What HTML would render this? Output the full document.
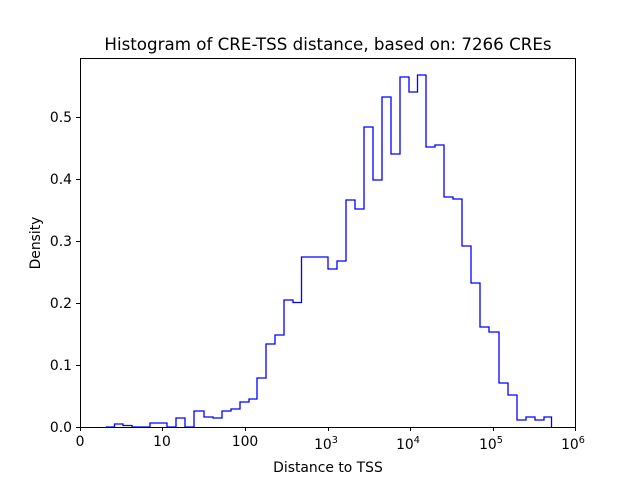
<!DOCTYPE html>
<html><head><meta charset="utf-8"><style>body{margin:0;background:#fff}svg{display:block;font-family:"DejaVu Sans","Liberation Sans",sans-serif}</style></head><body>
<svg width="640" height="480" viewBox="0 0 640 480" xmlns="http://www.w3.org/2000/svg">
<rect width="640" height="480" fill="#fff"/>
<path fill="none" stroke="#0000ff" stroke-width="1.3" stroke-linejoin="miter" d="M106,427 H114.5 V424 H123 V425.5 H132 V427 H150 V423 H167 V427 H176 V418 H185 V427 H194 V411 H204 V417 H213 V418 H222 V411 H231 V409 H240 V402 H249 V399 H257 V378 H266 V344 H275 V335 H284 V300 H293 V302.5 H301.5 V257 H328 V269 H337 V261 H346 V200 H355 V209 H364 V127 H373 V180 H382 V97 H391 V154 H400 V77 H409 V92 H417.5 V75 H426 V147 H435 V145 H444 V197 H453 V199 H462 V246 H471 V283 H480 V327 H489 V332 H499 V383 H508 V395 H517 V420 H526 V417 H535 V420 H544 V417 H551.5 V427"/>
<rect x="80.5" y="58.5" width="495" height="369" fill="none" stroke="#000" stroke-width="1"/>
<g stroke="#000" stroke-width="1">
<line x1="80.5" y1="427" x2="80.5" y2="431"/><line x1="162.5" y1="427" x2="162.5" y2="431"/><line x1="245.5" y1="427" x2="245.5" y2="431"/><line x1="328.5" y1="427" x2="328.5" y2="431"/><line x1="410.5" y1="427" x2="410.5" y2="431"/><line x1="493.5" y1="427" x2="493.5" y2="431"/><line x1="575.5" y1="427" x2="575.5" y2="431"/>
<line x1="76" y1="427.5" x2="80" y2="427.5"/><line x1="76" y1="365.5" x2="80" y2="365.5"/><line x1="76" y1="303.5" x2="80" y2="303.5"/><line x1="76" y1="241.5" x2="80" y2="241.5"/><line x1="76" y1="179.5" x2="80" y2="179.5"/><line x1="76" y1="117.5" x2="80" y2="117.5"/>
</g>
<g font-size="13.9" fill="#000" text-anchor="middle">
<text x="80" y="446">0</text><text x="162" y="446">10</text><text x="245" y="446">100</text>
<text x="326" y="449">10<tspan font-size="9.7" dy="-6">3</tspan></text>
<text x="408" y="449">10<tspan font-size="9.7" dy="-6">4</tspan></text>
<text x="491" y="449">10<tspan font-size="9.7" dy="-6">5</tspan></text>
<text x="573" y="449">10<tspan font-size="9.7" dy="-6">6</tspan></text>
</g>
<g font-size="13.9" fill="#000" text-anchor="end">
<text x="72" y="432">0.0</text><text x="72" y="370">0.1</text><text x="72" y="308">0.2</text><text x="72" y="246">0.3</text><text x="72" y="184">0.4</text><text x="72" y="122">0.5</text>
</g>
<text x="328" y="472" font-size="13.9" text-anchor="middle">Distance to TSS</text>
<text x="40" y="243" font-size="13.9" text-anchor="middle" transform="rotate(-90 40 243)">Density</text>
<text x="328" y="50" font-size="16.7" text-anchor="middle">Histogram of CRE-TSS distance, based on: 7266 CREs</text>
</svg>
</body></html>
